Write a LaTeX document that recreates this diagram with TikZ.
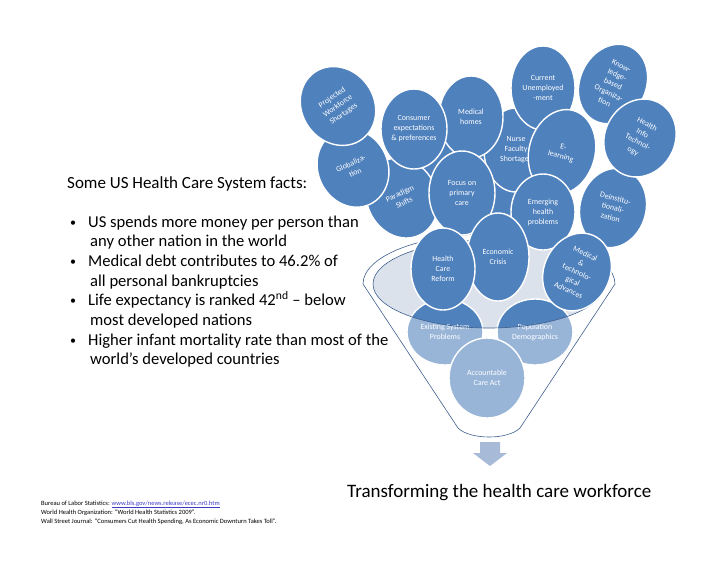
\documentclass[tikz,border=0pt]{standalone}
\usepackage{fontspec}
\setmainfont{Carlito}
\usetikzlibrary{shapes.geometric}

\definecolor{hcblue}{HTML}{4F81BD}
\definecolor{hcrim}{HTML}{3E5F8E}
\definecolor{hcgray}{HTML}{DCE2EC}
\definecolor{hcarrow}{HTML}{A7BAD8}
\definecolor{hclink}{HTML}{3B3BC8}

\tikzset{
  bubble/.style={ellipse, draw=white, line width=1.4pt, fill=hcblue, text=white,
    align=center, inner sep=0pt, font=\fontsize{7.9}{10}\selectfont},
  factline/.style={anchor=base west, inner sep=0pt, font=\fontsize{16.6}{19.7}\selectfont},
  factdot/.style={anchor=base, inner sep=0pt, font=\fontsize{12}{12}\selectfont},
  source/.style={anchor=base west, inner sep=0pt, font=\fontsize{6.5}{8}\selectfont},
  rim/.style={draw=hcrim, line width=0.6pt},
}

\begin{document}
\begin{tikzpicture}[x=1pt, y=-1pt]
  \useasboundingbox (0,0) rectangle (728,563);

  % left hand text
  \node[factline, font=\fontsize{17}{19.7}\selectfont] (facttitle) at (67,188) {Some US Health Care System facts:};
  \node[factdot] (dot1) at (73,226) {\textbullet};
  \node[factline] (fact1a) at (88,227) {US spends more money per person than};
  \node[factline] (fact1b) at (90,246.7) {any other nation in the world};
  \node[factdot] (dot2) at (73,265.4) {\textbullet};
  \node[factline] (fact2a) at (88,266.4) {Medical debt contributes to 46.2\% of};
  \node[factline] (fact2b) at (90,286.1) {all personal bankruptcies};
  \node[factdot] (dot3) at (73,304.8) {\textbullet};
  \node[factline] (fact3a) at (88,305.8) {Life expectancy is ranked 42\textsuperscript{nd} – below};
  \node[factline] (fact3b) at (90,325.5) {most developed nations};
  \node[factdot] (dot4) at (73,344.2) {\textbullet};
  \node[factline] (fact4a) at (88,345.2) {Higher infant mortality rate than most of the};
  \node[factline] (fact4b) at (90,364.9) {world’s developed countries};

  % sources
  \node[source] (src1) at (41,505) {Bureau of Labor Statistics: \textcolor{hclink}{\underline{www.bls.gov/news.release/ecec.nr0.htm}}};
  \node[source] (src2) at (41,514) {World Health Organization: “World Health Statistics 2009”.};
  \node[source] (src3) at (41,523) {Wall Street Journal: “Consumers Cut Health Spending, As Economic Downturn Takes Toll”.};

  \node[anchor=base west, inner sep=0pt, font=\fontsize{19}{22}\selectfont] (caption)
    at (347,497) {Transforming the health care workforce};

  % funnel: opening and the bubbles inside it
  \fill[hcgray] (489,284) ellipse[x radius=116, y radius=44];
  \node[bubble, minimum width=76pt, minimum height=66pt] (exist) at (445,332) {Existing System\\Problems};
  \node[bubble, minimum width=76pt, minimum height=66pt] (popul) at (535,332) {Population\\Demographics};
  \node[bubble, minimum width=76pt, minimum height=80pt] (acct) at (487,378) {Accountable\\Care Act};

  \fill[white, fill opacity=0.42, even odd rule]
    (363,284) -- (458,428) .. controls (470,440) and (508,440) .. (520,428) -- (615,284)
    arc[start angle=0, end angle=-180, x radius=126, y radius=50] -- cycle
    (489,284) ellipse[x radius=116, y radius=44];
  \draw[rim] (363,284) -- (458,428) .. controls (470,440) and (508,440) .. (520,428) -- (615,284)
    arc[start angle=0, end angle=-180, x radius=126, y radius=50] -- cycle;
  \draw[rim] (489,284) ellipse[x radius=116, y radius=44];

  \fill[hcarrow] (480,442) -- (500,442) -- (500,453) -- (507,453) -- (490,466)
    -- (473,453) -- (480,453) -- cycle;

  % bubbles on top, back to front
  \node[bubble, minimum width=66pt, minimum height=82pt] (back1) at (452,170) {};
  \node[bubble, minimum width=64pt, minimum height=80pt] (back2) at (492,188) {};
  \node[bubble, minimum width=64pt, minimum height=84pt] (nurse) at (516,150) {Nurse\\Faculty\\Shortages};
  \node[bubble, minimum width=64pt, minimum height=82pt] (medhome) at (471,117) {Medical\\homes};
  \node[bubble, minimum width=64pt, minimum height=84pt] (current) at (543,88) {Current\\Unemployed\\-ment};
  \node[bubble, minimum width=66pt, minimum height=82pt, rotate=-25] (knowl) at (613,84) {Know-\\ledge-\\based\\Organiza-\\tion};
  \node[bubble, minimum width=70pt, minimum height=82pt, rotate=25] (parad) at (402,198) {Paradigm\\Shifts};
  \node[bubble, minimum width=70pt, minimum height=80pt, rotate=25] (glob) at (353,168) {Globaliza-\\tion};
  \node[bubble, minimum width=72pt, minimum height=82pt, rotate=35] (proj) at (338,106) {Projected\\Workforce\\Shortages};
  \node[bubble, minimum width=66pt, minimum height=80pt] (consum) at (414,129) {Consumer\\expectations\\\& preferences};
  \node[bubble, minimum width=66pt, minimum height=86pt, rotate=-15] (elearn) at (562,152) {E-\\learning};
  \node[bubble, minimum width=64pt, minimum height=76pt] (emerg) at (543,212) {Emerging\\health\\problems};
  \node[bubble, minimum width=66pt, minimum height=80pt, rotate=-15] (deinst) at (613,208) {Deinstitu-\\tionali-\\zation};
  \node[bubble, minimum width=70pt, minimum height=80pt, rotate=-28] (hinfo) at (640,138) {Health\\Info\\Technol-\\ogy};
  \node[bubble, minimum width=66pt, minimum height=84pt] (focus) at (462,193) {Focus on\\primary\\care};
  \node[bubble, minimum width=62pt, minimum height=88pt] (econ) at (498,257) {Economic\\Crisis};
  \node[bubble, minimum width=66pt, minimum height=80pt, rotate=-25] (medtech) at (577,272) {Medical\\\&\\technolo-\\gical\\Advances};
  \node[bubble, minimum width=64pt, minimum height=82pt] (reform) at (443,269) {Health\\Care\\Reform};

\end{tikzpicture}
\end{document}
